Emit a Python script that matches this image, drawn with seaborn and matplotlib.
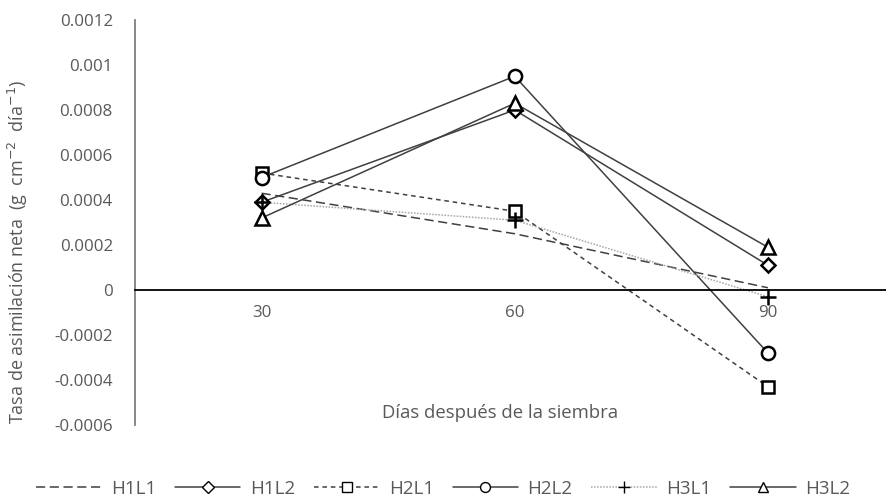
import pandas as pd
import matplotlib
matplotlib.use("Agg")
import matplotlib.pyplot as plt
import seaborn as sns

# datos
dias = [30, 60, 90]
h1l1 = [0.00043, 0.00025, 0.00001]
h1l2 = [0.00039, 0.00080, 0.00011]
h2l1 = [0.00052, 0.00035, -0.00043]
h2l2 = [0.00050, 0.00095, -0.00028]
h3l1 = [0.00039, 0.00031, -0.00003]
h3l2 = [0.00032, 0.00083, 0.00019]
series = ["H1L1", "H1L2", "H2L1", "H2L2", "H3L1", "H3L2"]
valores = [h1l1, h1l2, h2l1, h2l2, h3l1, h3l2]
yticks = [-0.0006, -0.0004, -0.0002, 0, 0.0002, 0.0004, 0.0006, 0.0008, 0.001, 0.0012]
ytick_labels = ["-0.0006", "-0.0004", "-0.0002", "0", "0.0002", "0.0004", "0.0006", "0.0008", "0.001", "0.0012"]

sns.set_style("white")
plt.rcParams["font.family"] = ["Open Sans", "DejaVu Sans"]

#estilos de cada serie
estilos = {
    "H1L1": dict(marker=None, dashes=(6, 3), color="#404040"),
    "H1L2": dict(marker="D", dashes=(), color="#404040"),
    "H2L1": dict(marker="s", dashes=(3, 2.5), color="#404040"),
    "H2L2": dict(marker="o", dashes=(), color="#404040"),
    "H3L1": dict(marker="+", dashes=(1, 1), color="#a6a6a6"),
    "H3L2": dict(marker="^", dashes=(), color="#404040"),
}
tamanos = {"D": 7.5, "s": 9, "o": 9.5, "+": 11, "^": 9.5}

fig = plt.figure(figsize=(8.86, 5), dpi=100)
ax = fig.add_axes([135 / 886, 0.15, 759.5 / 886, 0.81])

for nombre, vals in zip(series, valores):
    df = pd.DataFrame({"dias": dias, "valor": vals})
    e = estilos[nombre]
    kw = {}
    if e["marker"] is not None:
        kw = dict(marker=e["marker"], markersize=tamanos[e["marker"]],
                  markerfacecolor="white", markeredgecolor="black", markeredgewidth=1.8)
    sns.lineplot(x="dias", y="valor", data=df, ax=ax, color=e["color"],
                 linewidth=1.1, label=nombre, **kw)
    l = ax.lines[-1]
    if e["dashes"]:
        l.set_dashes(e["dashes"])

ax.set_xlim(15, 105)
ax.set_ylim(-0.0006, 0.0012)
ax.set_xticks(dias)
ax.set_xticklabels([str(d) for d in dias])
ax.set_yticks(yticks)
ax.set_yticklabels(ytick_labels)
ax.set_xlabel("")
ax.set_ylabel("")

ax.spines["top"].set_visible(False)
ax.spines["right"].set_visible(False)
ax.spines["bottom"].set_position(("data", 0))
ax.spines["bottom"].set_color("black")
ax.spines["bottom"].set_linewidth(1.3)
ax.spines["left"].set_color("#7f7f7f")
ax.spines["left"].set_linewidth(1.3)
ax.tick_params(axis="x", length=0, pad=11, labelsize=12.2, labelcolor="#595959")
ax.tick_params(axis="y", length=0, pad=16, labelsize=12.2, labelcolor="#595959")

fig.text(500 / 886, 1 - 413 / 500, "Días después de la siembra", ha="center", va="center",
         fontsize=13.3, color="#595959")
fig.text(18 / 886, 1 - 252 / 500, "Tasa de asimilación neta  (g  cm$^{-2}$  día$^{-1}$)", rotation=90,
         ha="center", va="center", fontsize=13, color="#595959")

#leyenda abajo
ax.get_legend().remove()
h, lbl = ax.get_legend_handles_labels()
leg = fig.legend(h, lbl, loc="center", bbox_to_anchor=(0.5, 1 - 489 / 500), ncol=6, frameon=False,
                 markerscale=0.75, handlelength=3.5, columnspacing=1.0, handletextpad=0.5,
                 fontsize=13.5, labelcolor="#595959")
for lh in leg.legend_handles:
    lh.set_markeredgewidth(1.0)

fig.savefig("out.png", dpi=100)
